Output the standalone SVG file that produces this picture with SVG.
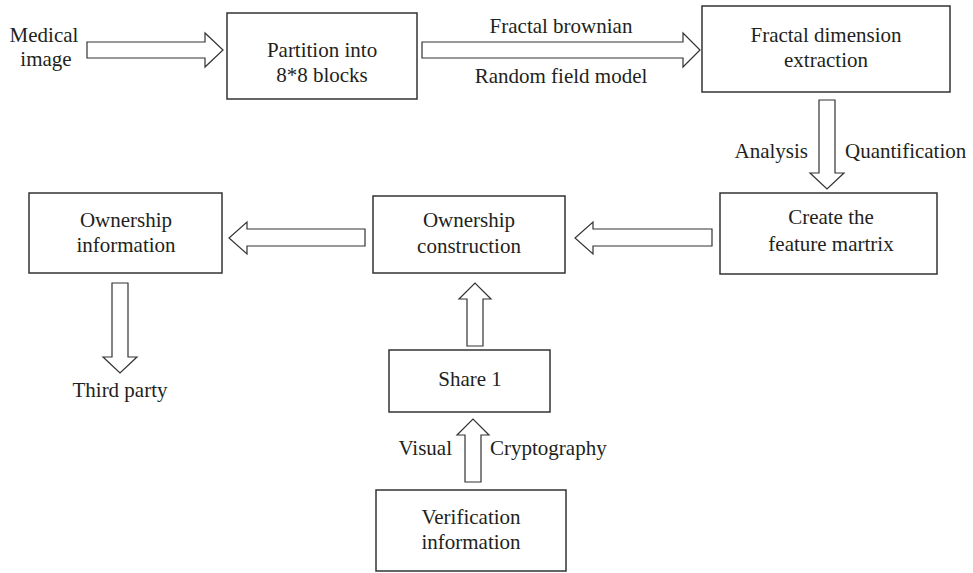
<svg xmlns="http://www.w3.org/2000/svg" width="973" height="573" viewBox="0 0 973 573" font-family="'Liberation Serif', serif">
<style>
.box{fill:#fff;stroke:#333;stroke-width:1.5}
.arr{fill:#fff;stroke:#333;stroke-width:1.2;stroke-linejoin:miter}
text{font-family:'Liberation Serif', serif;font-size:21px;fill:#231f20}
.c{text-anchor:middle}
.e{text-anchor:end}
</style>
<rect width="973" height="573" fill="#fff"/>
<g id="connectors">
<polygon class="arr" points="87,42 205,42 205,33 223,50 205,67 205,58 87,58"/>
<polygon class="arr" points="422,42 683,42 683,33 700,50 683,67 683,58 422,58"/>
<polygon class="arr" points="819,100 835,100 835,173 844,173 827,189 810,173 819,173"/>
<polygon class="arr" points="712,229 593,229 593,222 575,238 593,254 593,246 712,246"/>
<polygon class="arr" points="365,229 247,229 247,222 229,238 247,254 247,246 365,246"/>
<polygon class="arr" points="112,283 128,283 128,357 137,357 120,373 103,357 112,357"/>
<polygon class="arr" points="467,346 467,299 459,299 475,283 491,299 483,299 483,346"/>
<polygon class="arr" points="465,482 465,435 457,435 473,419 489,435 481,435 481,482"/>
<text class="c" x="561" y="33">Fractal brownian</text>
<text class="c" x="561" y="83">Random field model</text>
<text class="e" x="808" y="158">Analysis</text>
<text x="845" y="158">Quantification</text>
<text class="e" x="452" y="455">Visual</text>
<text x="490" y="455">Cryptography</text>
</g>
<g id="medical">
<text class="c" x="44" y="42">Medical</text>
<text class="c" x="46" y="66">image</text>
</g>
<g id="partition">
<rect class="box" x="227" y="13" width="190" height="86"/>
<text class="c" x="322" y="57">Partition into</text>
<text class="c" x="322" y="82">8*8 blocks</text>
</g>
<g id="fractal">
<rect class="box" x="702" y="6" width="248" height="86"/>
<text class="c" x="826" y="42">Fractal dimension</text>
<text class="c" x="826" y="67">extraction</text>
</g>
<g id="create">
<rect class="box" x="720" y="193" width="217" height="81"/>
<text class="c" x="831" y="224">Create the</text>
<text class="c" x="831" y="251">feature martrix</text>
</g>
<g id="ownership-construction">
<rect class="box" x="373" y="196" width="192" height="77"/>
<text class="c" x="469" y="227">Ownership</text>
<text class="c" x="469" y="253">construction</text>
</g>
<g id="ownership-information">
<rect class="box" x="29" y="193" width="193" height="80"/>
<text class="c" x="126" y="227">Ownership</text>
<text class="c" x="126" y="252">information</text>
</g>
<g id="third-party">
<text class="c" x="120" y="397">Third party</text>
</g>
<g id="share">
<rect class="box" x="389" y="350" width="161" height="62"/>
<text class="c" x="470" y="386">Share 1</text>
</g>
<g id="verification">
<rect class="box" x="376" y="490" width="190" height="81"/>
<text class="c" x="471" y="524">Verification</text>
<text class="c" x="471" y="549">information</text>
</g>
</svg>
